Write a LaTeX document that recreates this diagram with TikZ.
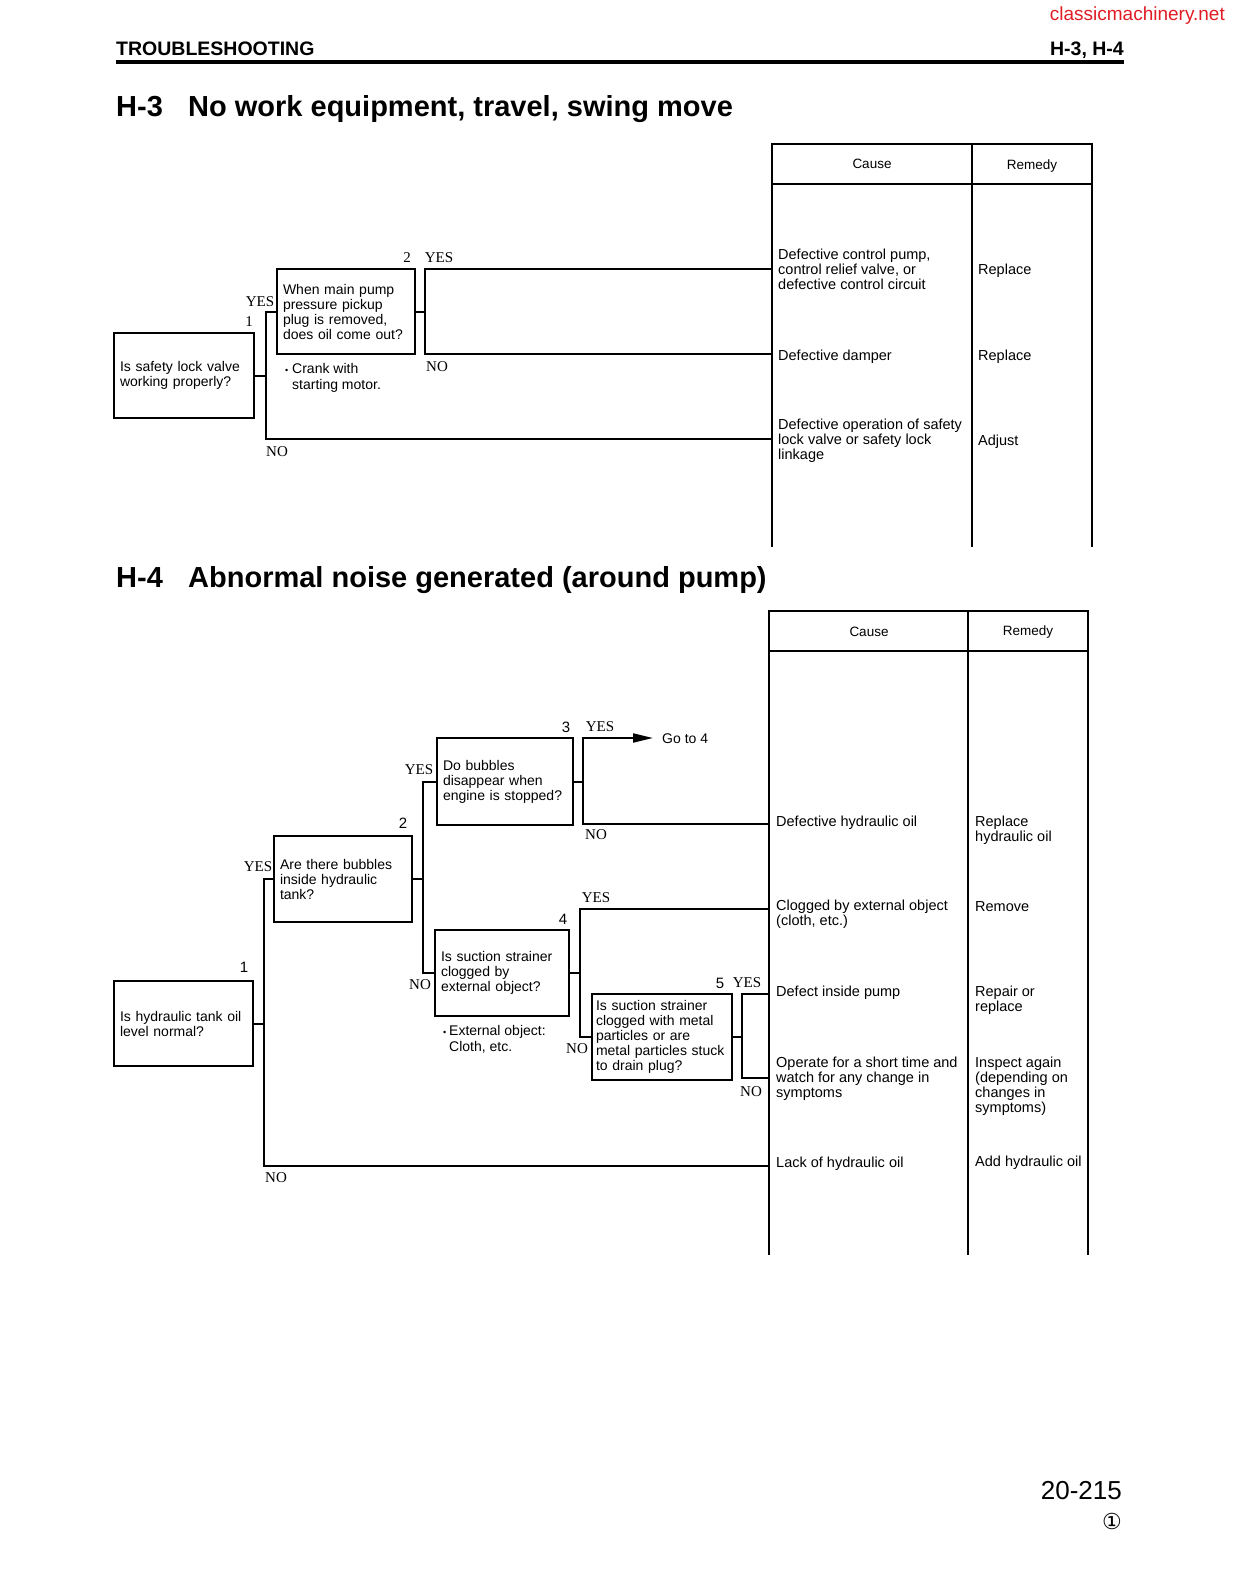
\documentclass[tikz,border=0pt]{standalone}
\usepackage{fontspec}
\setmainfont{Liberation Sans}
\newfontfamily\ynserif{Liberation Serif}
\newfontfamily\djvsans{DejaVu Sans}
\usetikzlibrary{arrows.meta}
\definecolor{cmred}{RGB}{226,28,36}
\newcommand\bxfont{\fontsize{14}{15}\selectfont}
\newcommand\tbfont{\fontsize{14.5}{15}\selectfont}
\newcommand\ntfont{\fontsize{14}{16}\selectfont}
\newcommand\ynfont{\ynserif\fontsize{15}{15}\selectfont}
\newcommand\nmfont{\fontsize{15}{15}\selectfont}
\newcommand\hdfont{\fontsize{13.5}{14}\selectfont}
\newcommand\ttlfont{\bfseries\fontsize{29}{30}\selectfont}
\newcommand\hfont{\bfseries\fontsize{19.5}{20}\selectfont}
\newcommand\wmfont{\fontsize{19}{20}\selectfont}
\newcommand\pgfont{\fontsize{26}{27}\selectfont}
\begin{document}
\begin{tikzpicture}[x=1pt,y=-1pt,
  qbox/.style={draw, line width=2.6pt, inner xsep=6pt, inner ysep=0pt, align=left, font=\bxfont},
  conn/.style={line width=2pt},
  tbl/.style={line width=2.2pt},
  yn/.style={font=\ynfont, inner sep=0pt},
  numlbl/.style={font=\nmfont, inner sep=0pt},
  ctext/.style={anchor=west, align=left, inner sep=0pt, font=\tbfont},
  hdr/.style={font=\hdfont, inner sep=0pt},
  notetext/.style={anchor=west, align=left, inner sep=0pt, font=\ntfont},
  ttl/.style={anchor=base west, font=\ttlfont, inner sep=0pt}]
\useasboundingbox (0,0) rectangle (1234,1584);
\fill[white] (0,0) rectangle (1234,1584);

% ---------- page header ----------
\node[anchor=base east, font=\wmfont, text=cmred, inner sep=0pt] (wm) at (1225,21) {classicmachinery.net};
\node[anchor=base west, font=\hfont, inner sep=0pt] (hl) at (116,56) {TROUBLESHOOTING};
\node[anchor=base east, font=\hfont, inner sep=0pt] (hr) at (1124,56) {H-3, H-4};
\draw[line width=3.5pt] (116,62) -- (1124,62);

% ---------- H-3 ----------
\node[ttl] (t3a) at (116,117) {H-3};
\node[ttl] (t3b) at (188,117) {No work equipment, travel, swing move};

% table
\draw[tbl] (772,547) -- (772,144) -- (1092,144) -- (1092,547);
\draw[tbl] (972,144) -- (972,547);
\draw[tbl] (772,184) -- (1092,184);
\node[hdr] (c3h) at (872,164) {Cause};
\node[hdr] (r3h) at (1032,166) {Remedy};

\node[ctext] (c31) at (778,269) {Defective control pump,\\control relief valve, or\\defective control circuit};
\node[ctext] (c32) at (778,357) {Defective damper};
\node[ctext] (c33) at (778,441) {Defective operation of safety\\lock valve or safety lock\\linkage};
\node[ctext] (r31) at (978,271) {Replace};
\node[ctext] (r32) at (978,357) {Replace};
\node[ctext] (r33) at (978,442) {Adjust};

% boxes
\node[qbox, text width=128pt, minimum height=85pt] (n1) at (184,375.5) {Is safety lock valve\\working properly?};
\node[qbox, text width=126pt, minimum height=85pt] (n2) at (346,311.5) {When main pump\\pressure pickup\\plug is removed,\\does oil come out?};
\node[notetext] (crank) at (285,378) {\makebox[7pt][l]{\fontsize{9}{9}\selectfont\textbullet}Crank with\\\hspace*{7pt}starting motor.};

% connectors
\coordinate (a1) at (266,0);
\coordinate (a2) at (425,0);
\coordinate (k1) at (772,269);
\coordinate (k2) at (772,354);
\coordinate (k3) at (772,439);
\draw[conn] (n1.east) -- (n1.east -| a1);
\draw[conn] (n2.west) -| (a1 |- k3) -- (k3);
\draw[conn] (n2.east) -- (n2.east -| a2);
\draw[conn] (k1) -- (k1 -| a2) -- (k2 -| a2) -- (k2);

% labels
\node[yn] (y31) at (260,302) {YES};
\node[yn] (l31) at (249,322) {1};
\node[yn] (no31) at (277,452) {NO};
\node[yn] (l32) at (407,258) {2};
\node[yn] (y32) at (439,258) {YES};
\node[yn] (no32) at (437,367) {NO};

% ---------- H-4 ----------
\node[ttl] (t4a) at (116,587) {H-4};
\node[ttl] (t4b) at (188,587) {Abnormal noise generated (around pump)};

% table
\draw[tbl] (769,1255) -- (769,611) -- (1088,611) -- (1088,1255);
\draw[tbl] (968,611) -- (968,1255);
\draw[tbl] (769,651) -- (1088,651);
\node[hdr] (c4h) at (869,632) {Cause};
\node[hdr] (r4h) at (1028,632) {Remedy};

\node[ctext] (c41) at (776,823) {Defective hydraulic oil};
\node[ctext] (c42) at (776,914.5) {Clogged by external object\\(cloth, etc.)};
\node[ctext] (c43) at (776,993) {Defect inside pump};
\node[ctext] (c44) at (776,1079) {Operate for a short time and\\watch for any change in\\symptoms};
\node[ctext] (c45) at (776,1164) {Lack of hydraulic oil};
\node[ctext] (r41) at (975,830) {Replace\\hydraulic oil};
\node[ctext] (r42) at (975,907) {Remove};
\node[ctext] (r43) at (975,1000.5) {Repair or\\replace};
\node[ctext] (r44) at (975,1086) {Inspect again\\(depending on\\changes in\\symptoms)};
\node[ctext] (r45) at (975,1163) {Add hydraulic oil};

% boxes
\node[qbox, text width=127pt, minimum height=85pt] (m1) at (183.5,1023.5) {Is hydraulic tank oil\\level normal?};
\node[qbox, text width=126pt, minimum height=86pt] (m2) at (343,879) {Are there bubbles\\inside hydraulic\\tank?};
\node[qbox, text width=124pt, minimum height=87pt] (m3) at (505,781.5) {Do bubbles\\disappear when\\engine is stopped?};
\node[qbox, text width=122pt, minimum height=86pt] (m4) at (502,973) {Is suction strainer\\clogged by\\external object?};
\node[qbox, inner xsep=4pt, text width=132pt, minimum height=86pt] (m5) at (662,1037) {Is suction strainer\\clogged with metal\\particles or are\\metal particles stuck\\to drain plug?};
\node[notetext] (ext) at (443,1039.5) {\makebox[6pt][l]{\fontsize{9}{9}\selectfont\textbullet}External object:\\\hspace*{6pt}Cloth, etc.};
\node[anchor=west, font=\bxfont, inner sep=0pt] (goto4) at (662,739) {Go to 4};

% connectors
\coordinate (b1) at (264,0);
\coordinate (b2) at (423,0);
\coordinate (b3) at (583,0);
\coordinate (b4) at (580,0);
\coordinate (b5) at (742,0);
\coordinate (q1) at (769,824);
\coordinate (q2) at (769,909);
\coordinate (q3) at (769,994);
\coordinate (q4) at (769,1078);
\coordinate (q5) at (769,1166);
\coordinate (tip) at (653,738);
\draw[conn] (m1.east) -- (m1.east -| b1);
\draw[conn] (m2.west) -| (b1 |- q5) -- (q5);
\draw[conn] (m2.east) -- (m2.east -| b2);
\draw[conn] (m3.west) -| (b2 |- m4.west) -- (m4.west);
\draw[conn] (m3.east) -- (m3.east -| b3);
\draw[conn, -{Triangle[length=20pt,width=9pt]}] (q1) -- (q1 -| b3) -- (b3 |- tip) -- (tip);
\draw[conn] (m4.east) -- (m4.east -| b4);
\draw[conn] (q2) -- (q2 -| b4) -- (b4 |- m5.west) -- (m5.west);
\draw[conn] (m5.east) -- (m5.east -| b5);
\draw[conn] (q3) -- (q3 -| b5) -- (b5 |- q4) -- (q4);

% labels
\node[numlbl] (l41) at (244,967) {1};
\node[yn] (y41) at (258,867) {YES};
\node[yn] (no41) at (276,1178) {NO};
\node[numlbl] (l42) at (403,823) {2};
\node[yn] (y42) at (419,770) {YES};
\node[yn] (no42) at (420,985) {NO};
\node[numlbl] (l43) at (566,727) {3};
\node[yn] (y43) at (600,727) {YES};
\node[yn] (no43) at (596,835) {NO};
\node[numlbl] (l44) at (563,919) {4};
\node[yn] (y44) at (596,898) {YES};
\node[yn] (no44) at (577,1049) {NO};
\node[numlbl] (l45) at (720,983) {5};
\node[yn] (y45) at (747,983) {YES};
\node[yn] (no45) at (751,1092) {NO};

% ---------- footer ----------
\node[anchor=base east, font=\pgfont, inner sep=0pt] (pg) at (1122,1499) {20-215};
\node[font=\djvsans\fontsize{22}{22}\selectfont, inner sep=0pt] (rev) at (1112,1521) {①};
\end{tikzpicture}
\end{document}
